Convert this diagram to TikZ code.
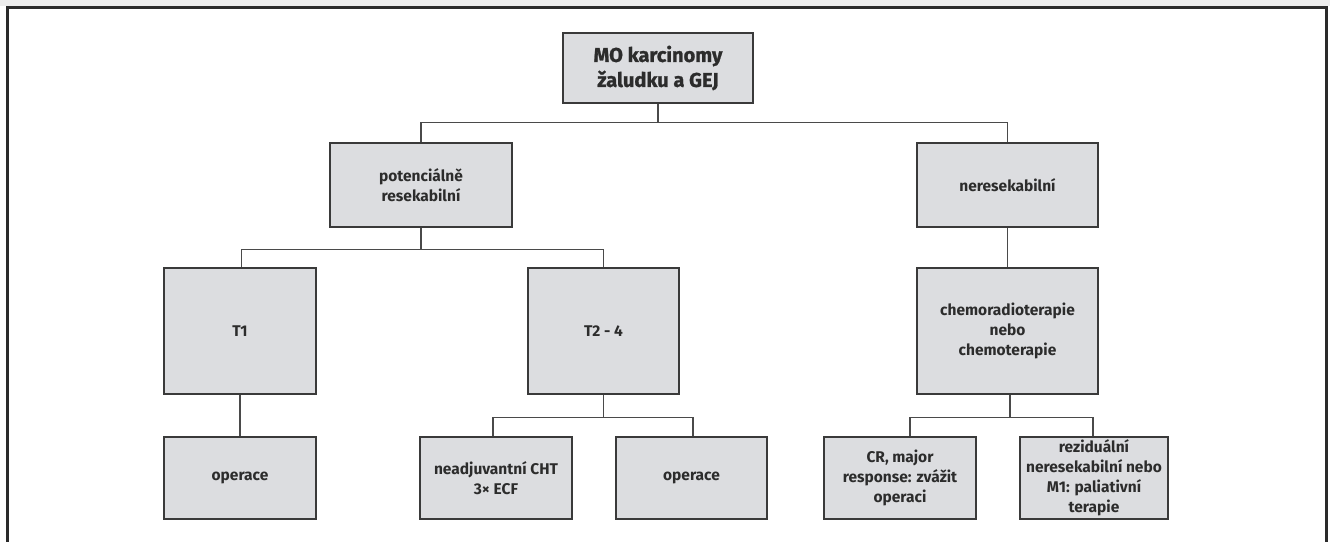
\documentclass[tikz,border=0pt]{standalone}
\usepackage{fontspec}
\setmainfont{Fira Sans}
\newfontfamily\titlefont{Fira Sans}[BoldFeatures={FakeBold=1.2}]
\definecolor{boxfill}{HTML}{DCDDE0}
\definecolor{boxdraw}{HTML}{3A3A3A}
\definecolor{linecol}{HTML}{4A4A4A}
\definecolor{txt}{HTML}{2C2C2C}
\definecolor{framecol}{HTML}{2A2A2A}
\begin{document}
\begin{tikzpicture}[x=1pt,y=-1pt,
  box/.style={draw=boxdraw,fill=boxfill,line width=1.2pt,inner sep=0pt,
    align=center,text=txt,font=\fontsize{15.5}{20}\selectfont\bfseries},
  conn/.style={draw=linecol,line width=1.3pt}]
\useasboundingbox (0,0) rectangle (1330,541);
% frame
\fill[gray!15] (0,0) rectangle (1330,6);
\draw[framecol,line width=3pt] (7,545) -- (7,7) -- (1326,7) -- (1326,545);
% nodes
\node[box,minimum width=190pt,minimum height=70pt,font=\titlefont\fontsize{20}{25}\selectfont\bfseries] (top) at (658,68) {MO karcinomy\\žaludku a GEJ};
\node[box,minimum width=182pt,minimum height=84pt] (pot) at (421,185) {potenciálně\\resekabilní};
\node[box,minimum width=181pt,minimum height=84pt] (ner) at (1007.5,185) {neresekabilní};
\node[box,minimum width=152pt,minimum height=126pt] (t1) at (240,331) {T1};
\node[box,minimum width=151pt,minimum height=126pt] (t24) at (603.5,331) {T2 - 4};
\node[box,minimum width=181pt,minimum height=126pt] (chemo) at (1007.5,331) {chemoradioterapie\\nebo\\chemoterapie};
\node[box,minimum width=152pt,minimum height=82pt] (op1) at (240,478) {operace};
\node[box,minimum width=152pt,minimum height=82pt] (neadj) at (496,478) {neadjuvantní CHT\\3× ECF};
\node[box,minimum width=151pt,minimum height=82pt] (op2) at (691.5,478) {operace};
\node[box,minimum width=152pt,minimum height=82pt] (cr) at (900,478) {CR, major\\response: zvážit\\operaci};
\node[box,minimum width=148pt,minimum height=82pt] (rez) at (1094,478) {reziduální\\neresekabilní nebo\\M1: paliativní\\terapie};
% connectors
\draw[conn] (top.south) -- ++(0,19) -| (pot.north);
\draw[conn] (top.south) -- ++(0,19) -| (ner.north);
\draw[conn] (pot.south) -- ++(0,22) -| ([xshift=1.7pt]t1.north);
\draw[conn] (pot.south) -- ++(0,22) -| (t24.north);
\draw[conn] (t1.south) -- (op1.north);
\draw[conn] (ner.south) -- (chemo.north);
\draw[conn] (t24.south) -- ++(0,22.7) -| ([xshift=-3pt]neadj.north);
\draw[conn] (t24.south) -- ++(0,22.7) -| ([xshift=1.5pt]op2.north);
\draw[conn] ([xshift=2.5pt]chemo.south) -- ++(0,22.7) -| ([xshift=10pt]cr.north);
\draw[conn] ([xshift=2.5pt]chemo.south) -- ++(0,22.7) -| ([xshift=-1pt]rez.north);
\end{tikzpicture}
\end{document}
